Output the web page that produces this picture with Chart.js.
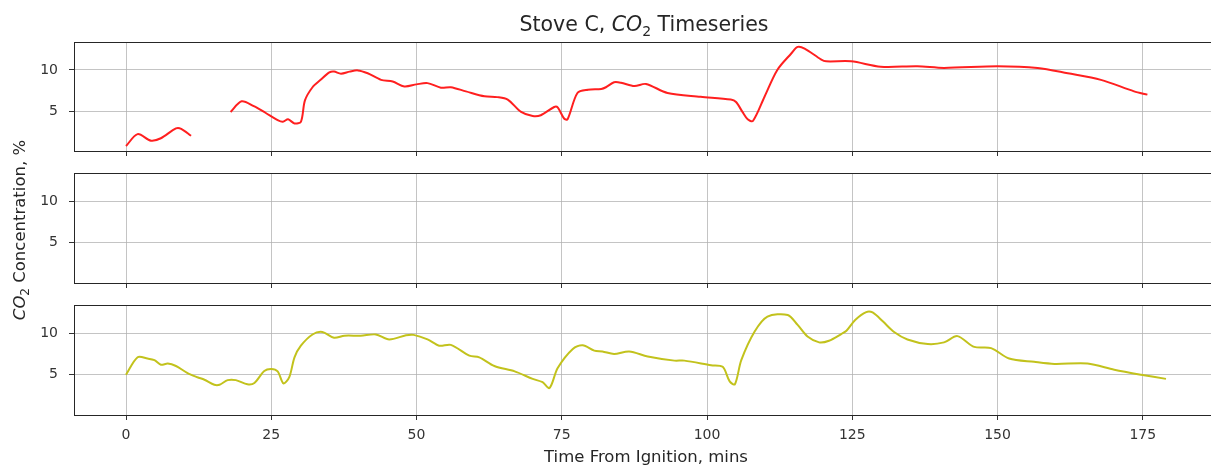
<!DOCTYPE html>
<html>
<head>
<meta charset="utf-8">
<script src="https://cdn.jsdelivr.net/npm/chart.js@4"></script>
<style>
  html, body { margin: 0; padding: 0; background: #fff; overflow: hidden; }
  .panel { position: absolute; left: 0; top: 0; width: 1218px; height: 468px; }
</style>
</head>
<body>
<div class="panel"><canvas id="top"></canvas></div>
<div class="panel"><canvas id="mid"></canvas></div>
<div class="panel"><canvas id="bot"></canvas></div>
<script>
// CO2 timeseries (mins from ignition, % CO2)
const redTime = [0, 2, 4.3, 6, 8.6, 9.5, 11.2, 14, 18, 19.9, 22, 24, 26.1, 27, 27.9, 29, 30.1, 30.8, 32.1, 33.5, 35, 35.8, 37, 38.5, 39.9, 41.6, 43.9, 45.9, 47.9, 50, 51.9, 54.2, 55.9, 58.5, 61.7, 63.9, 65.7, 68, 70, 71.4, 73.7, 74.3, 75.4, 76, 77.7, 79.5, 81.8, 82.6, 84, 85.2, 87.5, 89.5, 93.2, 98.9, 104.1, 105, 106.1, 107, 107.9, 109.9, 112.1, 114.5, 115.6, 116.8, 119.6, 120.5, 124.8, 129.9, 136.2, 140.8, 150, 156.9, 162.1, 167.8, 173.5, 175.8];
const redCO2 = [0.75, 2.2, 1.4, 1.7, 2.9, 2.85, 2.0, null, 4.9, 6.2, 5.6, 4.8, 3.9, 3.7, 4.0, 3.5, 3.7, 6.3, 7.9, 8.8, 9.7, 9.8, 9.55, 9.8, 9.95, 9.6, 8.8, 8.6, 8.0, 8.25, 8.4, 7.85, 7.9, 7.4, 6.8, 6.7, 6.4, 4.9, 4.4, 4.5, 5.5, 5.45, 4.1, 4.0, 7.2, 7.6, 7.7, 7.9, 8.5, 8.45, 8.05, 8.3, 7.2, 6.75, 6.4, 6.1, 4.9, 4.0, 3.8, 6.75, 10.0, 12.0, 12.8, 12.6, 11.3, 11.05, 11.05, 10.4, 10.45, 10.25, 10.45, 10.25, 9.6, 8.8, 7.4, 7.0];

const yellowTime = [0, 2, 3.7, 4.9, 6, 7.2, 8.6, 10.6, 12.3, 13.5, 15.2, 16.1, 17.5, 18.9, 20.9, 22.1, 23.8, 25, 26.1, 27.1, 28.1, 29, 30.1, 32.1, 33.8, 35.8, 37.6, 40.4, 43, 45.3, 48.2, 49.5, 51.9, 53.9, 55.9, 59.1, 60.8, 63.4, 66.9, 70, 71.7, 72.9, 74.3, 76.9, 78.6, 80.6, 82, 84, 86.6, 89.8, 94.4, 96.1, 100.7, 102.7, 103.9, 104.8, 105.9, 108.2, 110.4, 113.9, 115.6, 117.3, 119.3, 121, 123.1, 124, 125.5, 127.4, 128.5, 130.3, 132.2, 134.5, 138, 140.8, 143.1, 146, 148.9, 152, 156.3, 159.8, 165.5, 170.1, 174.7, 179];
const yellowCO2 = [5.0, 7.1, 6.95, 6.75, 6.2, 6.35, 6.05, 5.2, 4.7, 4.4, 3.8, 3.8, 4.35, 4.35, 3.85, 4.0, 5.45, 5.7, 5.4, 3.95, 4.7, 7.1, 8.5, 9.85, 10.15, 9.45, 9.7, 9.7, 9.85, 9.25, 9.75, 9.8, 9.25, 8.5, 8.6, 7.3, 7.1, 6.05, 5.4, 4.5, 4.1, 3.4, 5.8, 8.1, 8.55, 7.9, 7.8, 7.5, 7.8, 7.2, 6.7, 6.7, 6.15, 5.95, 4.2, 3.85, 6.75, 10.2, 12.0, 12.2, 11.0, 9.6, 8.9, 9.1, 9.9, 10.3, 11.6, 12.55, 12.5, 11.4, 10.15, 9.25, 8.7, 8.9, 9.65, 8.35, 8.2, 6.95, 6.55, 6.3, 6.35, 5.6, 5.0, 4.5];

const xTicks = [0, 25, 50, 75, 100, 125, 150, 175];
const yTicks = [5, 10];

// title / y label pieces: normal text, italic "CO", subscript "2"
const titleParts = [['Stove C, ', ''], ['CO', 'italic'], ['2', 'sub'], [' Timeseries', '']];
const yLabelParts = [['CO', 'italic'], ['2', 'sub'], [' Concentration, %', '']];

const FONT = "'DejaVu Sans', sans-serif";
const gridColor = 'rgba(176,176,176,0.75)';
const tickColor = '#333';
const textColor = '#262626';

function toPoints(xs, ys) {
  return xs.map((x, i) => ({ x: x, y: ys[i] }));
}

function partFont(style, size) {
  if (style == 'italic') return 'italic ' + size + 'px ' + FONT;
  if (style == 'sub') return Math.round(size * 0.7) + 'px ' + FONT;
  return size + 'px ' + FONT;
}

// draws mixed-style text centred on cx, baseline at y
function drawParts(ctx, parts, cx, y, size) {
  let total = 0;
  const widths = parts.map(p => {
    ctx.font = partFont(p[1], size);
    const w = ctx.measureText(p[0]).width;
    total += w;
    return w;
  });
  let x = cx - total / 2;
  ctx.textAlign = 'left';
  ctx.textBaseline = 'alphabetic';
  ctx.fillStyle = textColor;
  parts.forEach((p, i) => {
    ctx.font = partFont(p[1], size);
    ctx.fillText(p[0], x, p[1] == 'sub' ? y + size * 0.22 : y);
    x += widths[i];
  });
}

// box round each plot area, like matplotlib spines
const framePlugin = {
  id: 'frame',
  afterDraw(chart) {
    const a = chart.chartArea;
    const ctx = chart.ctx;
    ctx.save();
    ctx.strokeStyle = '#262626';
    ctx.lineWidth = 1;
    ctx.strokeRect(Math.round(a.left) + 0.5, Math.round(a.top) + 0.5,
      Math.round(a.right - a.left), Math.round(a.bottom - a.top));
    ctx.restore();
  }
};

const titlePlugin = {
  id: 'mathTitle',
  afterDraw(chart) {
    const ctx = chart.ctx;
    ctx.save();
    drawParts(ctx, titleParts, 644, 31, 20.5);
    ctx.restore();
  }
};

const yLabelPlugin = {
  id: 'mathYLabel',
  afterDraw(chart) {
    const ctx = chart.ctx;
    ctx.save();
    ctx.translate(25, 230);
    ctx.rotate(-Math.PI / 2);
    drawParts(ctx, yLabelParts, 0, 0, 16.5);
    ctx.restore();
  }
};

function makeChart(id, opts) {
  return new Chart(document.getElementById(id), {
    type: 'line',
    plugins: [framePlugin].concat(opts.extra || []),
    data: {
      datasets: opts.datasets
    },
    options: {
      responsive: true,
      maintainAspectRatio: false,
      animation: false,
      layout: { padding: { top: opts.padTop, bottom: opts.padBottom, left: 0, right: 0 } },
      plugins: {
        legend: { display: false },
        tooltip: { enabled: false },
        title: { display: false }
      },
      scales: {
        x: {
          type: 'linear',
          min: -8.95,
          max: 187.95,
          afterBuildTicks: s => { s.ticks = xTicks.map(v => ({ value: v })); },
          afterFit: s => { s.height = opts.xHeight; },
          grid: { color: gridColor, tickColor: tickColor, tickLength: 5 },
          border: { display: false },
          ticks: {
            display: opts.xLabels,
            color: tickColor,
            padding: 7,
            maxRotation: 0,
            font: { family: FONT, size: 14 }
          },
          title: opts.xTitle || { display: false }
        },
        y: {
          min: 0.15,
          max: 13.4,
          afterBuildTicks: s => { s.ticks = yTicks.map(v => ({ value: v })); },
          afterFit: s => { s.width = 74; },
          grid: { color: gridColor, tickColor: tickColor, tickLength: 5 },
          border: { display: false },
          ticks: {
            color: tickColor,
            padding: 11,
            font: { family: FONT, size: 14 }
          }
        }
      }
    }
  });
}

makeChart('top', {
  padTop: 42,
  padBottom: 308,
  xHeight: 9,
  xLabels: false,
  extra: [titlePlugin],
  datasets: [{
    data: toPoints(redTime, redCO2),
    borderColor: '#ff1f1f',
    borderWidth: 2,
    pointRadius: 0,
    tension: 0.3,
    spanGaps: false
  }]
});

makeChart('mid', {
  padTop: 173,
  padBottom: 176,
  xHeight: 9,
  xLabels: false,
  extra: [yLabelPlugin],
  datasets: [{
    data: [],
    borderColor: '#1f77b4',
    borderWidth: 2,
    pointRadius: 0
  }]
});

makeChart('bot', {
  padTop: 305,
  padBottom: 0,
  xHeight: 53,
  xLabels: true,
  xTitle: {
    display: true,
    text: 'Time From Ignition, mins',
    color: textColor,
    font: { family: FONT, size: 16.5 },
    padding: { top: 0, bottom: 0 }
  },
  datasets: [{
    data: toPoints(yellowTime, yellowCO2),
    borderColor: '#c2c21c',
    borderWidth: 2,
    pointRadius: 0,
    tension: 0.3
  }]
});
</script>
</body>
</html>
